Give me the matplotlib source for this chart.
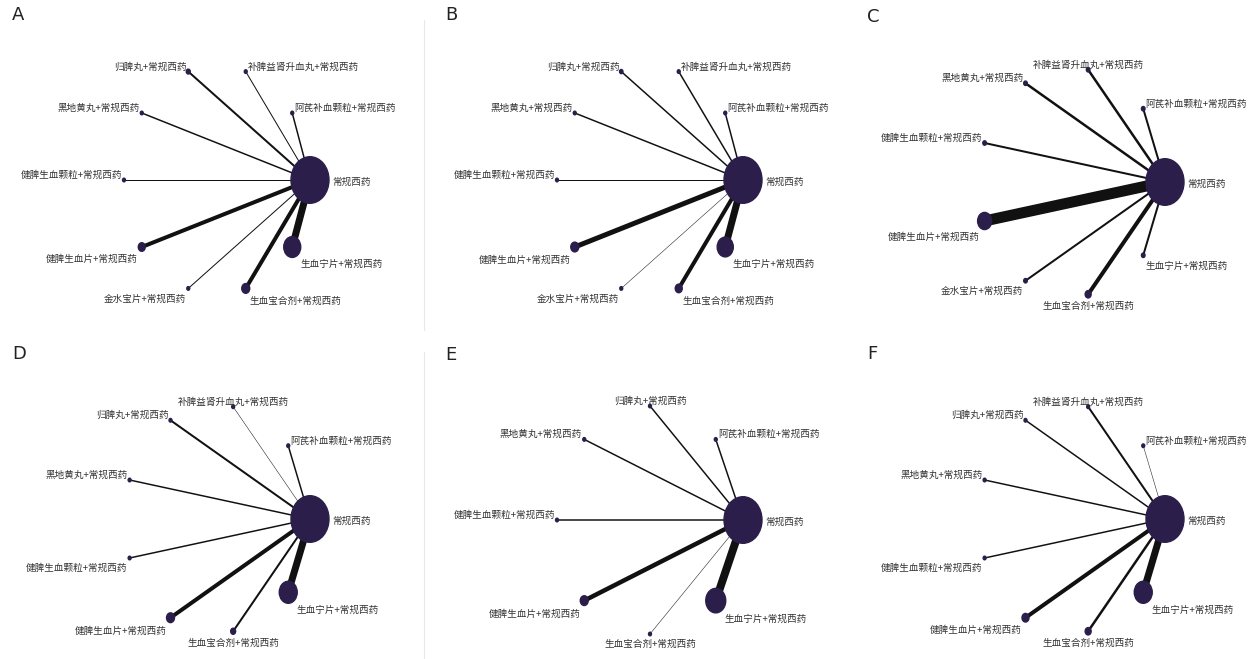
import numpy as np
import matplotlib
matplotlib.use("Agg")
import matplotlib.pyplot as plt
from matplotlib.patches import Ellipse

plt.rcParams['font.family'] = ['Noto Sans CJK SC', 'DejaVu Sans']

HUB = "常规西药"
SUFFIX = "+常规西药"

panel_names = ["A", "B", "C", "D", "E", "F"]

# treatments around the circle, clockwise from the hub
order_A = ["生血宁片", "生血宝合剂", "金水宝片", "健脾生血片", "健脾生血颗粒",
           "黑地黄丸", "归脾丸", "补脾益肾升血丸", "阿芪补血颗粒"]
order_B = list(order_A)
order_C = ["生血宁片", "生血宝合剂", "金水宝片", "健脾生血片", "健脾生血颗粒",
           "黑地黄丸", "补脾益肾升血丸", "阿芪补血颗粒"]
order_D = ["生血宁片", "生血宝合剂", "健脾生血片", "健脾生血颗粒",
           "黑地黄丸", "归脾丸", "补脾益肾升血丸", "阿芪补血颗粒"]
order_E = ["生血宁片", "生血宝合剂", "健脾生血片", "健脾生血颗粒",
           "黑地黄丸", "归脾丸", "阿芪补血颗粒"]
order_F = list(order_D)

# node weights (hub = 1000), same order as above
hub_n = 1000
nodes_A = [200, 44, 6, 34, 6, 6, 11, 6, 6]
nodes_B = [180, 34, 6, 44, 6, 6, 8, 6, 6]
nodes_C = [9, 25, 9, 136, 9, 9, 9, 9]
nodes_D = [224, 17, 44, 6, 6, 6, 6, 6]
nodes_E = [277, 6, 44, 6, 6, 6, 6]
nodes_F = [224, 25, 34, 6, 6, 6, 6, 6]

# edge weights (comparisons with the hub)
edges_A = [14, 8, 2, 8, 2, 3, 4, 2, 3]
edges_B = [14, 8, 1, 10, 2, 3, 3, 3, 3]
edges_C = [4, 8, 4, 22, 4, 5, 5, 4]
edges_D = [14, 4, 8, 3, 3, 4, 1, 3]
edges_E = [16, 1, 9, 3, 3, 3, 3]
edges_F = [14, 5, 8, 3, 3, 3, 4, 1]

orders = [order_A, order_B, order_C, order_D, order_E, order_F]
nodes = [nodes_A, nodes_B, nodes_C, nodes_D, nodes_E, nodes_F]
edges = [edges_A, edges_B, edges_C, edges_D, edges_E, edges_F]

# layout (pixels)
W, H = 1255, 659
centers = [(217, 180), (650, 180), (1072, 182), (217, 519), (650, 520), (1072, 519)]
RX, RY = 93, 114
XL, XR, YT, YB = -2.35, 2.35, -1.6, 1.5
NODE = "#2c1e4a"
TXT = "#333333"

fig = plt.figure(figsize=(W / 100, H / 100), dpi=100)

for k in range(6):
    cx, cy = centers[k]
    ax = fig.add_axes([(cx + XL * RX) / W, 1 - (cy + YB * RY) / H,
                       (XR - XL) * RX / W, (YB - YT) * RY / H])
    ax.set_xlim(XL, XR)
    ax.set_ylim(YB, YT)
    ax.axis("off")
    ax.patch.set_alpha(0)

    names = [HUB] + [n + SUFFIX for n in orders[k]]
    sizes = [hub_n] + nodes[k]
    m = len(names)
    ang = 2 * np.pi * np.arange(m) / m
    xs, ys = np.cos(ang), np.sin(ang)

    for i in range(1, m):
        ax.plot([xs[0], xs[i]], [ys[0], ys[i]], color="#111111",
                lw=edges[k][i - 1] * 0.36, solid_capstyle="butt", zorder=1)

    for i in range(m):
        r = max(19 / RX * np.sqrt(sizes[i] / hub_n), 1.4 / RX)
        ax.add_patch(Ellipse((xs[i], ys[i]), 2 * r, 2 * r, color=NODE, zorder=2))
        rp = r * RX
        c, s = xs[i], ys[i]
        if i == 0:
            ha, dx = "left", rp + 3
        elif abs(c) < 0.2:
            ha, dx = "center", 0
        elif c > 0:
            ha, dx = "left", (2 if s <= 0.05 else rp * 0.8 + 1)
        else:
            ha, dx = "right", (-2 if s <= 0.05 else -(rp * 0.5 + 2))
        if i == 0:
            dy = -2
        elif s > 0.05:
            dy = -(rp + 9)
        else:
            dy = 5
        ax.annotate(names[i], (xs[i], ys[i]), xytext=(dx, dy),
                    textcoords="offset pixels", ha=ha, va="center",
                    fontsize=6.9, color=TXT, zorder=3)

    ax.text(-205 / RX, -165 / RY, panel_names[k], fontsize=13, color="#222222",
            family="DejaVu Sans", ha="left", va="center")

# faint panel separators
for y0, y1 in [(20, 330), (352, 659)]:
    fig.add_artist(plt.Line2D([424 / W, 424 / W], [1 - y0 / H, 1 - y1 / H],
                              color="#e8e8e8", lw=0.8))

fig.savefig("out.png", dpi=100)
